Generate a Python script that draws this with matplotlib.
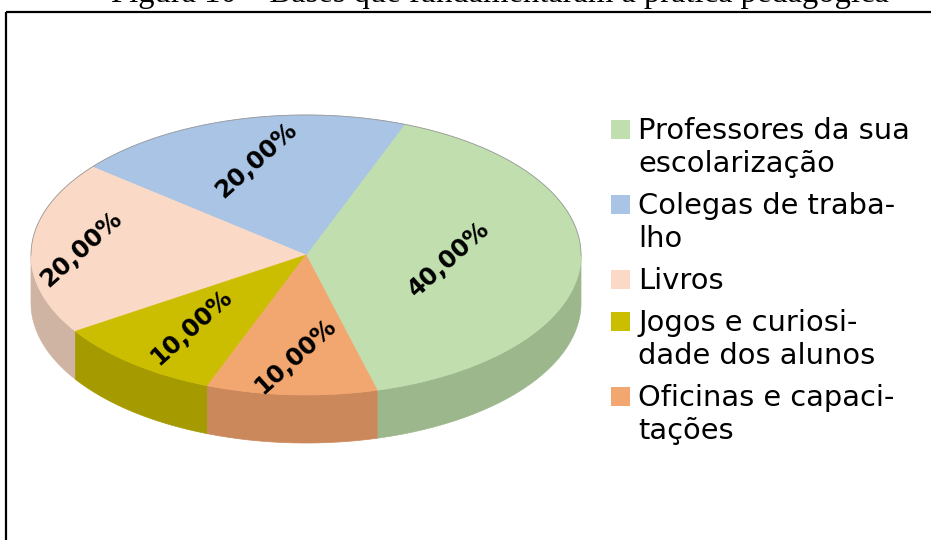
import numpy as np
import matplotlib.pyplot as plt
from matplotlib.patches import Polygon, Rectangle

# data
categories = ['Professores da sua\nescolarização', 'Colegas de traba-\nlho', 'Livros',
              'Jogos e curiosi-\ndade dos alunos', 'Oficinas e capaci-\ntações']
values = [40.0, 20.0, 20.0, 10.0, 10.0]
top_colors = ['#c1dfae', '#a9c4e4', '#fadac6', '#cbbe00', '#f2a670']
side_colors = ['#9db78c', '#8ea5c0', '#d0b4a3', '#a59b00', '#cb885a']
title = 'Figura 10 – Bases que fundamentaram a prática pedagógica'

# layout (pixel units, y downwards)
W, H = 931, 540
cx, cy = 306, 255
rx, ry = 275, 140
depth = 48
start = 285
label_r = [0.52, 0.70, 0.82, 0.66, 0.72]

fig = plt.figure(figsize=(W / 100, H / 100), dpi=100)
ax = fig.add_axes([0, 0, 1, 1])
ax.set_xlim(0, W)
ax.set_ylim(H, 0)
ax.axis('off')


def rim(a0, a1, n=80):
    t = np.radians(np.linspace(a0, a1, n))
    return cx + rx * np.cos(t), cy - ry * np.sin(t)


total = sum(values)
bounds = start + 360 * np.concatenate([[0], np.cumsum(values)]) / total

# side walls (only the front half is visible)
for i in range(len(values)):
    a0, a1 = bounds[i], bounds[i + 1]
    for f0, f1 in [(180, 360), (540, 720)]:
        s, e = max(a0, f0), min(a1, f1)
        if e <= s:
            continue
        x, y = rim(s, e)
        xs = np.concatenate([x, x[::-1]])
        ys = np.concatenate([y, y[::-1] + depth])
        ax.add_patch(Polygon(np.column_stack([xs, ys]), closed=True,
                             fc=side_colors[i], ec=side_colors[i], lw=0.5, zorder=1))

# top faces
for i in range(len(values)):
    x, y = rim(bounds[i], bounds[i + 1])
    xs = np.concatenate([[cx], x])
    ys = np.concatenate([[cy], y])
    ax.add_patch(Polygon(np.column_stack([xs, ys]), closed=True,
                         fc=top_colors[i], ec=top_colors[i], lw=0.5, zorder=2))

# faint outline on the back rim
x, y = rim(0, 180)
ax.plot(x, y, color='#9a9a9a', lw=0.6, zorder=3)

# data labels
for i, v in enumerate(values):
    mid = np.radians((bounds[i] + bounds[i + 1]) / 2)
    lx = cx + label_r[i] * rx * np.cos(mid)
    ly = cy - label_r[i] * ry * np.sin(mid)
    ax.text(lx, ly, f'{v:.2f}%'.replace('.', ','), rotation=42, rotation_mode='anchor',
            ha='center', va='center', fontsize=17.5, fontweight='bold',
            family='DejaVu Sans', color='black', zorder=4)

# legend drawn by hand so the box sits on the first line
y = 129.5
for i, lab in enumerate(categories):
    ax.add_patch(Rectangle((611, y - 9.5), 19, 19, fc=top_colors[i], ec='none', zorder=3))
    lines = lab.split('\n')
    for k, line in enumerate(lines):
        ax.text(638, y + k * 33 + 9.5, line, ha='left', va='baseline',
                fontsize=20.8, family='DejaVu Sans', color='black')
    y += (len(lines) - 1) * 33 + 42

# frame (only top and left edges are visible in the crop)
ax.plot([6, W], [12, 12], color='black', lw=1.6, solid_capstyle='butt')
ax.plot([6, 6], [12, H], color='black', lw=1.6, solid_capstyle='butt')

# figure caption, mostly cut off by the top edge
ax.text(500, 2, title, ha='center', va='baseline', fontsize=23.5,
        family='Liberation Serif', color='black')

fig.savefig('out.png', dpi=100)
